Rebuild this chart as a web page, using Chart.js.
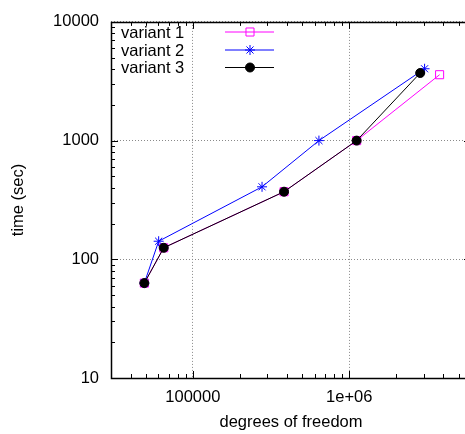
<!DOCTYPE html>
<html>
<head>
<meta charset="utf-8">
<script src="https://cdn.jsdelivr.net/npm/chart.js@4/dist/chart.umd.min.js"></script>
<style>
    body { margin: 0; background: #fff; overflow: hidden; }
    #wrap { width: 465px; height: 434px; overflow: hidden; }
</style>
</head>
<body>
<!-- canvas is a bit wider than the window: the right edge of the frame falls outside, as in the original -->
<div id="wrap"><canvas id="timeChart" width="471" height="434"></canvas></div>
<script>
// data
const seriesNames = ['variant 1', 'variant 2', 'variant 3'];
const dofV1 = [49000, 65200, 383000, 1115000, 3780000];
const timeV1 = [63, 125, 371, 1000, 3590];
const dofV2 = [49000, 60500, 277000, 640000, 3030000];
const timeV2 = [63, 142, 408, 1000, 4030];
const dofV3 = [49000, 65200, 383000, 1115000, 2840000];
const timeV3 = [63, 125, 371, 1000, 3710];

const xTicks = [100000, 1000000];
const yTicks = [10, 100, 1000, 10000];
const xRange = [30000, 6000000];
const yRange = [10, 10000];

const FONT = { family: '"Liberation Sans", Arial, sans-serif', size: 16.5 };

function toPoints(xs, ys) {
    return xs.map((x, i) => ({ x: x, y: ys[i] }));
}

// gnuplot style frame, inward ticks and key
const gnuFrame = {
    id: 'gnuFrame',
    afterDatasetsDraw(chart) {
        const ctx = chart.ctx;
        const a = chart.chartArea;
        const xs = chart.scales.x, ys = chart.scales.y;
        ctx.save();
        ctx.strokeStyle = '#000';
        ctx.lineWidth = 1;

        // minor + major ticks
        function tickList(min, max) {
            const out = [];
            for (let e = Math.floor(Math.log10(min)); e <= Math.ceil(Math.log10(max)); e++) {
                for (let m = 1; m <= 9; m++) {
                    const v = m * Math.pow(10, e);
                    if (v >= min && v <= max) out.push({ v: v, major: m === 1 });
                }
            }
            return out;
        }
        ctx.beginPath();
        tickList(xRange[0], xRange[1]).forEach(t => {
            const px = Math.round(xs.getPixelForValue(t.v)) + 0.5;
            const len = t.major ? 7 : 4;
            ctx.moveTo(px, a.bottom); ctx.lineTo(px, a.bottom - len);
            ctx.moveTo(px, a.top); ctx.lineTo(px, a.top + len);
        });
        tickList(yRange[0], yRange[1]).forEach(t => {
            const py = Math.round(ys.getPixelForValue(t.v)) + 0.5;
            const len = t.major ? 7 : 4;
            ctx.moveTo(a.left, py); ctx.lineTo(a.left + len, py);
            ctx.moveTo(a.right, py); ctx.lineTo(a.right - len, py);
        });
        ctx.stroke();

        // border
        ctx.lineWidth = 1.5;
        ctx.strokeRect(Math.round(a.left) + 0.5, Math.round(a.top) + 0.5,
            Math.round(a.right - a.left), Math.round(a.bottom - a.top));

        // key
        const rows = [32, 50, 67.5];
        ctx.font = FONT.size + 'px ' + FONT.family;
        ctx.textAlign = 'left';
        ctx.textBaseline = 'middle';
        chart.data.datasets.forEach((ds, i) => {
            const y = rows[i];
            ctx.fillStyle = '#000';
            ctx.fillText(ds.label, 121, y + 1);
            ctx.strokeStyle = ds.borderColor;
            ctx.lineWidth = ds.borderWidth;
            ctx.beginPath();
            ctx.moveTo(225, y); ctx.lineTo(274, y);
            ctx.stroke();
            ctx.fillStyle = ds.pointBackgroundColor;
            ctx.strokeStyle = ds.pointBorderColor;
            ctx.lineWidth = 1;
            Chart.helpers.drawPoint(ctx, {
                pointStyle: ds.pointStyle,
                radius: ds.pointRadius,
                borderWidth: 1
            }, 250, y);
        });
        ctx.restore();
    }
};

const ctx = document.getElementById('timeChart').getContext('2d');
new Chart(ctx, {
    type: 'scatter',
    data: {
        datasets: [{
            label: seriesNames[0],
            data: toPoints(dofV1, timeV1),
            showLine: true,
            borderColor: '#ff00ff',
            borderWidth: 1,
            pointStyle: 'rect',
            pointRadius: 5.7,
            pointBackgroundColor: 'rgba(0,0,0,0)',
            pointBorderColor: '#ff00ff',
            pointBorderWidth: 1,
            order: 3
        }, {
            label: seriesNames[1],
            data: toPoints(dofV2, timeV2),
            showLine: true,
            borderColor: '#0000ff',
            borderWidth: 1,
            pointStyle: 'star',
            pointRadius: 5,
            pointBackgroundColor: '#0000ff',
            pointBorderColor: '#0000ff',
            pointBorderWidth: 1,
            order: 2
        }, {
            label: seriesNames[2],
            data: toPoints(dofV3, timeV3),
            showLine: true,
            borderColor: '#000000',
            borderWidth: 1,
            pointStyle: 'circle',
            pointRadius: 4.5,
            pointBackgroundColor: '#000000',
            pointBorderColor: '#000000',
            pointBorderWidth: 1,
            order: 1
        }]
    },
    options: {
        responsive: false,
        animation: false,
        layout: { autoPadding: false, padding: { top: 18, right: 0, left: 0, bottom: 0 } },
        plugins: {
            legend: { display: false },
            tooltip: { enabled: false }
        },
        scales: {
            x: {
                type: 'logarithmic',
                min: xRange[0],
                max: xRange[1],
                afterBuildTicks: axis => { axis.ticks = xTicks.map(v => ({ value: v })); },
                afterFit: axis => { axis.height = 56; },
                border: { display: false, dash: [1, 2] },
                grid: { color: '#8a8a8a', lineWidth: 1, drawTicks: false },
                ticks: {
                    color: '#000',
                    font: FONT,
                    padding: 10,
                    maxRotation: 0,
                    callback: v => v >= 1000000 ? '1e+06' : String(v)
                },
                title: {
                    display: true,
                    text: 'degrees of freedom',
                    color: '#000',
                    font: FONT,
                    padding: { top: 0, bottom: 2 }
                }
            },
            y: {
                type: 'logarithmic',
                min: yRange[0],
                max: yRange[1],
                afterBuildTicks: axis => { axis.ticks = yTicks.map(v => ({ value: v })); },
                afterFit: axis => { axis.width = 111; },
                border: { display: false, dash: [1, 2] },
                grid: { color: '#8a8a8a', lineWidth: 1, drawTicks: false },
                ticks: {
                    color: '#000',
                    font: FONT,
                    padding: 12,
                    callback: v => String(v)
                },
                title: {
                    display: true,
                    text: 'time (sec)',
                    color: '#000',
                    font: FONT,
                    padding: { top: 9, bottom: 0 }
                }
            }
        }
    },
    plugins: [gnuFrame]
});
</script>
</body>
</html>
